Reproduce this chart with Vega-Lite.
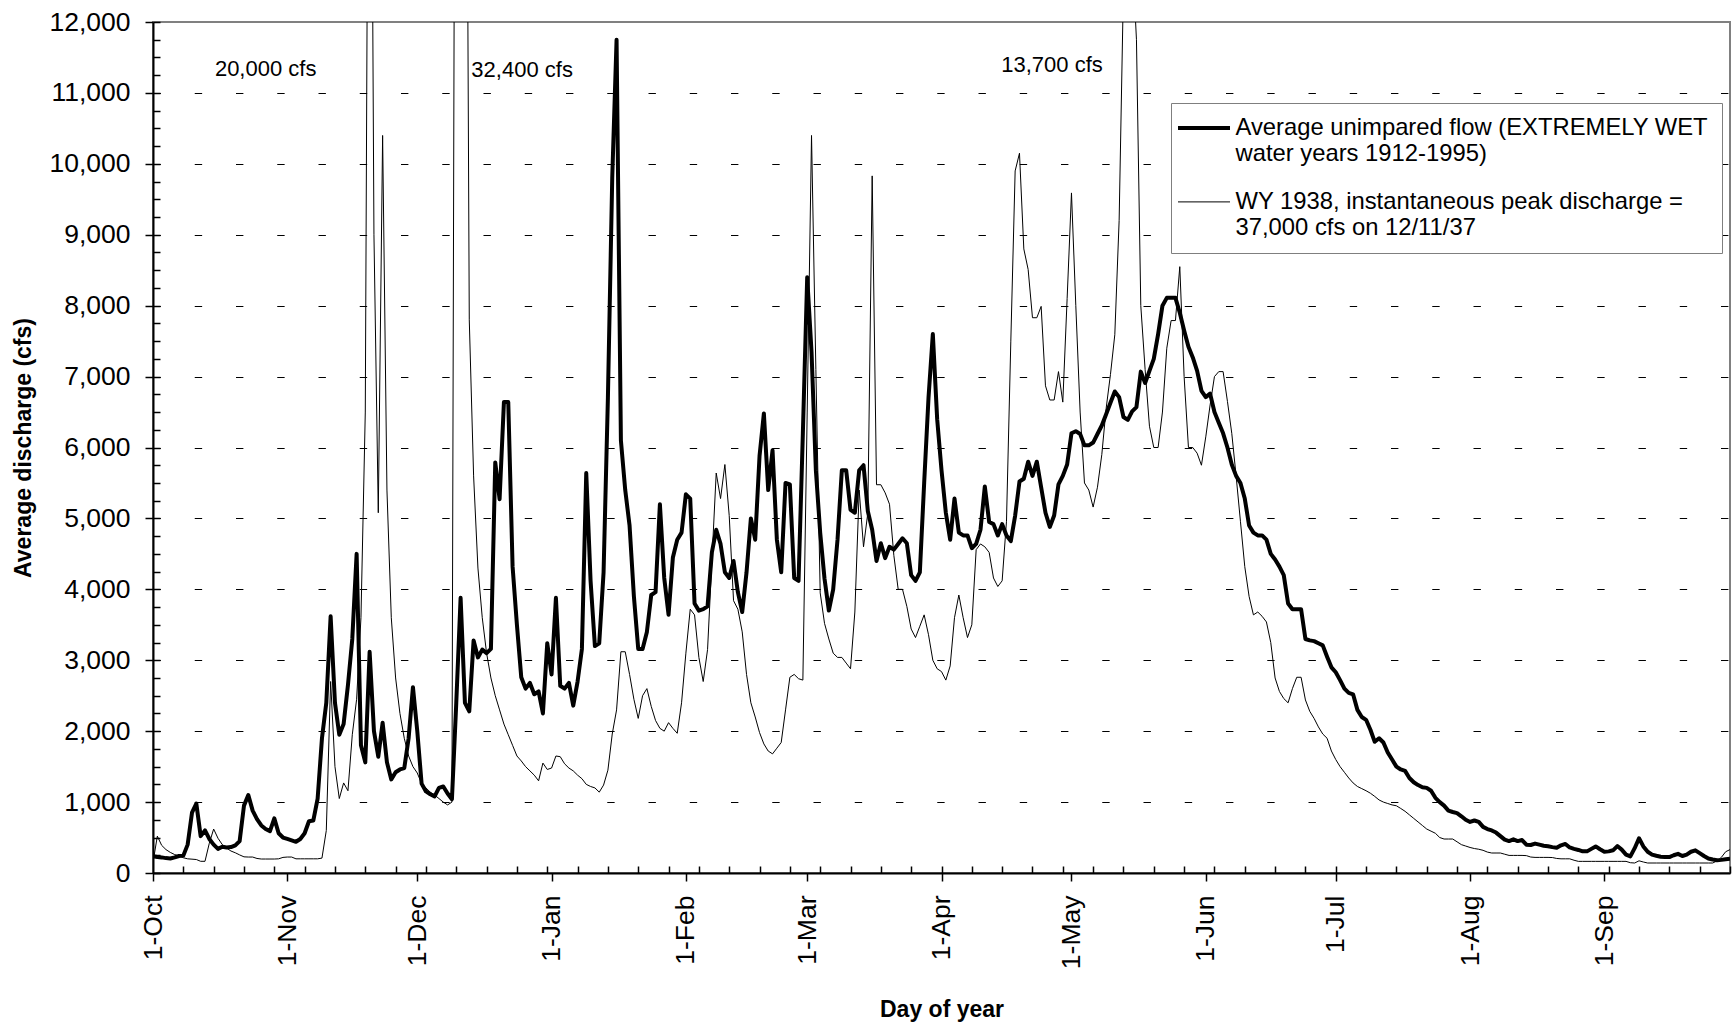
{
  "$schema": "https://vega.github.io/schema/vega-lite/v6.json",
  "width": 1577,
  "height": 851,
  "autosize": {"type": "none"},
  "padding": {"left": 153, "top": 22, "right": 2, "bottom": 156},
  "background": "white",
  "config": {
    "font": "Liberation Sans",
    "view": {"stroke": "#808080", "strokeWidth": 2},
    "axis": {
      "labelFont": "Liberation Sans",
      "titleFont": "Liberation Sans",
      "labelColor": "black",
      "titleColor": "black",
      "domainColor": "black",
      "tickColor": "black"
    }
  },
  "datasets": {
    "flow": [
      {"d":0,"avg":235,"wy":150},{"d":1,"avg":225,"wy":520},{"d":2,"avg":220,"wy":390},{"d":3,"avg":210,"wy":330},{"d":4,"avg":205,"wy":290},
      {"d":5,"avg":220,"wy":260},{"d":6,"avg":240,"wy":240},{"d":7,"avg":245,"wy":215},{"d":8,"avg":400,"wy":200},{"d":9,"avg":850,"wy":195},
      {"d":10,"avg":980,"wy":190},{"d":11,"avg":520,"wy":165},{"d":12,"avg":600,"wy":165},{"d":13,"avg":480,"wy":420},{"d":14,"avg":400,"wy":620},
      {"d":15,"avg":340,"wy":490},{"d":16,"avg":370,"wy":400},{"d":17,"avg":360,"wy":350},{"d":18,"avg":365,"wy":310},{"d":19,"avg":390,"wy":285},
      {"d":20,"avg":450,"wy":255},{"d":21,"avg":950,"wy":228},{"d":22,"avg":1100,"wy":225},{"d":23,"avg":880,"wy":225},{"d":24,"avg":760,"wy":205},
      {"d":25,"avg":670,"wy":197},{"d":26,"avg":620,"wy":197},{"d":27,"avg":590,"wy":197},{"d":28,"avg":770,"wy":197},{"d":29,"avg":560,"wy":200},
      {"d":30,"avg":500,"wy":220},{"d":31,"avg":480,"wy":225},{"d":32,"avg":460,"wy":225},{"d":33,"avg":440,"wy":200},{"d":34,"avg":480,"wy":200},
      {"d":35,"avg":560,"wy":200},{"d":36,"avg":730,"wy":200},{"d":37,"avg":740,"wy":200},{"d":38,"avg":1050,"wy":200},{"d":39,"avg":1900,"wy":210},
      {"d":40,"avg":2400,"wy":600},{"d":41,"avg":3620,"wy":2700},{"d":42,"avg":2400,"wy":1500},{"d":43,"avg":1950,"wy":1050},{"d":44,"avg":2100,"wy":1270},
      {"d":45,"avg":2650,"wy":1160},{"d":46,"avg":3300,"wy":1950},{"d":47,"avg":4500,"wy":2450},{"d":48,"avg":1800,"wy":3600},{"d":49,"avg":1560,"wy":6500},
      {"d":50,"avg":3120,"wy":20000},{"d":51,"avg":2000,"wy":9000},{"d":52,"avg":1640,"wy":5080},{"d":53,"avg":2120,"wy":10400},{"d":54,"avg":1560,"wy":5400},
      {"d":55,"avg":1320,"wy":3600},{"d":56,"avg":1420,"wy":2750},{"d":57,"avg":1460,"wy":2250},{"d":58,"avg":1480,"wy":1900},{"d":59,"avg":1900,"wy":1650},
      {"d":60,"avg":2620,"wy":1500},{"d":61,"avg":2000,"wy":1410},{"d":62,"avg":1260,"wy":1260},{"d":63,"avg":1150,"wy":1200},{"d":64,"avg":1110,"wy":1140},
      {"d":65,"avg":1080,"wy":1100},{"d":66,"avg":1200,"wy":1050},{"d":67,"avg":1220,"wy":1000},{"d":68,"avg":1120,"wy":960},{"d":69,"avg":1040,"wy":1000},
      {"d":70,"avg":2400,"wy":23000},{"d":71,"avg":3880,"wy":32400},{"d":72,"avg":2400,"wy":21000},{"d":73,"avg":2280,"wy":7800},{"d":74,"avg":3280,"wy":5600},
      {"d":75,"avg":3040,"wy":4300},{"d":76,"avg":3150,"wy":3600},{"d":77,"avg":3100,"wy":3100},{"d":78,"avg":3160,"wy":2750},{"d":79,"avg":5790,"wy":2500},
      {"d":80,"avg":5270,"wy":2300},{"d":81,"avg":6640,"wy":2100},{"d":82,"avg":6640,"wy":1950},{"d":83,"avg":4320,"wy":1800},{"d":84,"avg":3500,"wy":1650},
      {"d":85,"avg":2760,"wy":1580},{"d":86,"avg":2600,"wy":1500},{"d":87,"avg":2680,"wy":1440},{"d":88,"avg":2520,"wy":1380},{"d":89,"avg":2560,"wy":1300},
      {"d":90,"avg":2250,"wy":1550},{"d":91,"avg":3240,"wy":1460},{"d":92,"avg":2800,"wy":1480},{"d":93,"avg":3880,"wy":1650},{"d":94,"avg":2640,"wy":1640},
      {"d":95,"avg":2600,"wy":1540},{"d":96,"avg":2680,"wy":1480},{"d":97,"avg":2360,"wy":1440},{"d":98,"avg":2700,"wy":1380},{"d":99,"avg":3160,"wy":1330},
      {"d":100,"avg":5640,"wy":1250},{"d":101,"avg":4120,"wy":1220},{"d":102,"avg":3200,"wy":1200},{"d":103,"avg":3240,"wy":1140},{"d":104,"avg":4240,"wy":1240},
      {"d":105,"avg":6700,"wy":1450},{"d":106,"avg":9800,"wy":1960},{"d":107,"avg":11750,"wy":2300},{"d":108,"avg":6100,"wy":3120},{"d":109,"avg":5400,"wy":3120},
      {"d":110,"avg":4900,"wy":2800},{"d":111,"avg":3900,"wy":2450},{"d":112,"avg":3160,"wy":2180},{"d":113,"avg":3160,"wy":2500},{"d":114,"avg":3400,"wy":2600},
      {"d":115,"avg":3920,"wy":2350},{"d":116,"avg":3960,"wy":2150},{"d":117,"avg":5200,"wy":2040},{"d":118,"avg":4160,"wy":2000},{"d":119,"avg":3640,"wy":2120},
      {"d":120,"avg":4450,"wy":2040},{"d":121,"avg":4700,"wy":1970},{"d":122,"avg":4800,"wy":2400},{"d":123,"avg":5340,"wy":3100},{"d":124,"avg":5280,"wy":3720},
      {"d":125,"avg":3800,"wy":3640},{"d":126,"avg":3700,"wy":3040},{"d":127,"avg":3720,"wy":2700},{"d":128,"avg":3760,"wy":3150},{"d":129,"avg":4520,"wy":4400},
      {"d":130,"avg":4840,"wy":5640},{"d":131,"avg":4640,"wy":5280},{"d":132,"avg":4240,"wy":5760},{"d":133,"avg":4160,"wy":5040},{"d":134,"avg":4400,"wy":3840},
      {"d":135,"avg":3960,"wy":3720},{"d":136,"avg":3680,"wy":3400},{"d":137,"avg":4240,"wy":2800},{"d":138,"avg":5000,"wy":2400},{"d":139,"avg":4700,"wy":2200},
      {"d":140,"avg":5880,"wy":1980},{"d":141,"avg":6480,"wy":1820},{"d":142,"avg":5400,"wy":1720},{"d":143,"avg":5960,"wy":1680},{"d":144,"avg":4700,"wy":1760},
      {"d":145,"avg":4240,"wy":1840},{"d":146,"avg":5500,"wy":2300},{"d":147,"avg":5480,"wy":2760},{"d":148,"avg":4160,"wy":2800},{"d":149,"avg":4120,"wy":2740},
      {"d":150,"avg":6200,"wy":2720},{"d":151,"avg":8400,"wy":6500},{"d":152,"avg":7350,"wy":10400},{"d":153,"avg":5680,"wy":7100},{"d":154,"avg":4800,"wy":3950},
      {"d":155,"avg":4150,"wy":3520},{"d":156,"avg":3700,"wy":3300},{"d":157,"avg":4000,"wy":3100},{"d":158,"avg":4700,"wy":3040},{"d":159,"avg":5680,"wy":3040},
      {"d":160,"avg":5680,"wy":2960},{"d":161,"avg":5120,"wy":2880},{"d":162,"avg":5080,"wy":3680},{"d":163,"avg":5680,"wy":5400},{"d":164,"avg":5750,"wy":4600},
      {"d":165,"avg":5100,"wy":5080},{"d":166,"avg":4840,"wy":9830},{"d":167,"avg":4400,"wy":5475},{"d":168,"avg":4650,"wy":5475},{"d":169,"avg":4440,"wy":5360},
      {"d":170,"avg":4600,"wy":5200},{"d":171,"avg":4560,"wy":4480},{"d":172,"avg":4640,"wy":4000},{"d":173,"avg":4720,"wy":4000},{"d":174,"avg":4650,"wy":3760},
      {"d":175,"avg":4200,"wy":3440},{"d":176,"avg":4120,"wy":3320},{"d":177,"avg":4240,"wy":3480},{"d":178,"avg":5500,"wy":3640},{"d":179,"avg":6700,"wy":3360},
      {"d":180,"avg":7600,"wy":3000},{"d":181,"avg":6400,"wy":2880},{"d":182,"avg":5680,"wy":2840},{"d":183,"avg":5080,"wy":2720},{"d":184,"avg":4700,"wy":2920},
      {"d":185,"avg":5280,"wy":3600},{"d":186,"avg":4800,"wy":3920},{"d":187,"avg":4760,"wy":3600},{"d":188,"avg":4760,"wy":3320},{"d":189,"avg":4580,"wy":3500},
      {"d":190,"avg":4640,"wy":4560},{"d":191,"avg":4840,"wy":4640},{"d":192,"avg":5450,"wy":4600},{"d":193,"avg":4950,"wy":4520},{"d":194,"avg":4920,"wy":4160},
      {"d":195,"avg":4760,"wy":4040},{"d":196,"avg":4920,"wy":4120},{"d":197,"avg":4760,"wy":4960},{"d":198,"avg":4680,"wy":7500},{"d":199,"avg":5040,"wy":9900},
      {"d":200,"avg":5520,"wy":10150},{"d":201,"avg":5560,"wy":8800},{"d":202,"avg":5800,"wy":8510},{"d":203,"avg":5600,"wy":7830},{"d":204,"avg":5800,"wy":7830},
      {"d":205,"avg":5440,"wy":7990},{"d":206,"avg":5080,"wy":6870},{"d":207,"avg":4880,"wy":6670},{"d":208,"avg":5040,"wy":6670},{"d":209,"avg":5480,"wy":7070},
      {"d":210,"avg":5600,"wy":6640},{"d":211,"avg":5760,"wy":8100},{"d":212,"avg":6200,"wy":9590},{"d":213,"avg":6230,"wy":8000},{"d":214,"avg":6190,"wy":6500},
      {"d":215,"avg":6030,"wy":5500},{"d":216,"avg":6030,"wy":5400},{"d":217,"avg":6070,"wy":5160},{"d":218,"avg":6190,"wy":5440},{"d":219,"avg":6310,"wy":5900},
      {"d":220,"avg":6470,"wy":6550},{"d":221,"avg":6630,"wy":7030},{"d":222,"avg":6790,"wy":7590},{"d":223,"avg":6710,"wy":9200},{"d":224,"avg":6430,"wy":12500},
      {"d":225,"avg":6390,"wy":13700},{"d":226,"avg":6510,"wy":13000},{"d":227,"avg":6570,"wy":11750},{"d":228,"avg":7070,"wy":8000},{"d":229,"avg":6910,"wy":7100},
      {"d":230,"avg":7080,"wy":6300},{"d":231,"avg":7250,"wy":6000},{"d":232,"avg":7600,"wy":6000},{"d":233,"avg":8000,"wy":6500},{"d":234,"avg":8110,"wy":7400},
      {"d":235,"avg":8110,"wy":7790},{"d":236,"avg":8110,"wy":7790},{"d":237,"avg":7900,"wy":8550},{"d":238,"avg":7650,"wy":7000},{"d":239,"avg":7420,"wy":6000},
      {"d":240,"avg":7270,"wy":6000},{"d":241,"avg":7080,"wy":5920},{"d":242,"avg":6800,"wy":5750},{"d":243,"avg":6710,"wy":6150},{"d":244,"avg":6760,"wy":6600},
      {"d":245,"avg":6500,"wy":7000},{"d":246,"avg":6350,"wy":7070},{"d":247,"avg":6200,"wy":7070},{"d":248,"avg":6000,"wy":6650},{"d":249,"avg":5760,"wy":6200},
      {"d":250,"avg":5600,"wy":5600},{"d":251,"avg":5500,"wy":4960},{"d":252,"avg":5280,"wy":4320},{"d":253,"avg":4900,"wy":3900},{"d":254,"avg":4800,"wy":3640},
      {"d":255,"avg":4760,"wy":3680},{"d":256,"avg":4760,"wy":3620},{"d":257,"avg":4700,"wy":3540},{"d":258,"avg":4500,"wy":3250},{"d":259,"avg":4420,"wy":2750},
      {"d":260,"avg":4320,"wy":2560},{"d":261,"avg":4200,"wy":2460},{"d":262,"avg":3800,"wy":2400},{"d":263,"avg":3720,"wy":2600},{"d":264,"avg":3720,"wy":2760},
      {"d":265,"avg":3720,"wy":2760},{"d":266,"avg":3300,"wy":2440},{"d":267,"avg":3280,"wy":2280},{"d":268,"avg":3270,"wy":2180},{"d":269,"avg":3240,"wy":2060},
      {"d":270,"avg":3210,"wy":1960},{"d":271,"avg":3050,"wy":1900},{"d":272,"avg":2900,"wy":1720},{"d":273,"avg":2830,"wy":1600},{"d":274,"avg":2720,"wy":1500},
      {"d":275,"avg":2600,"wy":1420},{"d":276,"avg":2540,"wy":1340},{"d":277,"avg":2520,"wy":1270},{"d":278,"avg":2300,"wy":1220},{"d":279,"avg":2200,"wy":1190},
      {"d":280,"avg":2160,"wy":1160},{"d":281,"avg":2020,"wy":1125},{"d":282,"avg":1850,"wy":1080},{"d":283,"avg":1900,"wy":1030},{"d":284,"avg":1840,"wy":1000},
      {"d":285,"avg":1700,"wy":980},{"d":286,"avg":1600,"wy":960},{"d":287,"avg":1500,"wy":948},{"d":288,"avg":1460,"wy":910},{"d":289,"avg":1440,"wy":870},
      {"d":290,"avg":1340,"wy":820},{"d":291,"avg":1280,"wy":770},{"d":292,"avg":1240,"wy":720},{"d":293,"avg":1210,"wy":670},{"d":294,"avg":1200,"wy":620},
      {"d":295,"avg":1160,"wy":590},{"d":296,"avg":1060,"wy":560},{"d":297,"avg":1000,"wy":500},{"d":298,"avg":950,"wy":479},{"d":299,"avg":880,"wy":479},
      {"d":300,"avg":860,"wy":479},{"d":301,"avg":845,"wy":440},{"d":302,"avg":800,"wy":400},{"d":303,"avg":750,"wy":380},{"d":304,"avg":720,"wy":360},
      {"d":305,"avg":740,"wy":345},{"d":306,"avg":720,"wy":335},{"d":307,"avg":650,"wy":320},{"d":308,"avg":620,"wy":295},{"d":309,"avg":600,"wy":282},
      {"d":310,"avg":570,"wy":282},{"d":311,"avg":520,"wy":282},{"d":312,"avg":470,"wy":265},{"d":313,"avg":450,"wy":248},{"d":314,"avg":475,"wy":248},
      {"d":315,"avg":450,"wy":248},{"d":316,"avg":465,"wy":248},{"d":317,"avg":400,"wy":245},{"d":318,"avg":395,"wy":225},{"d":319,"avg":415,"wy":220},
      {"d":320,"avg":400,"wy":220},{"d":321,"avg":385,"wy":220},{"d":322,"avg":378,"wy":220},{"d":323,"avg":365,"wy":218},{"d":324,"avg":355,"wy":205},
      {"d":325,"avg":390,"wy":200},{"d":326,"avg":410,"wy":200},{"d":327,"avg":360,"wy":200},{"d":328,"avg":340,"wy":180},{"d":329,"avg":325,"wy":164},
      {"d":330,"avg":305,"wy":164},{"d":331,"avg":305,"wy":164},{"d":332,"avg":340,"wy":164},{"d":333,"avg":375,"wy":164},{"d":334,"avg":335,"wy":164},
      {"d":335,"avg":300,"wy":164},{"d":336,"avg":305,"wy":164},{"d":337,"avg":320,"wy":164},{"d":338,"avg":380,"wy":164},{"d":339,"avg":330,"wy":164},
      {"d":340,"avg":260,"wy":164},{"d":341,"avg":235,"wy":145},{"d":342,"avg":350,"wy":141},{"d":343,"avg":490,"wy":172},{"d":344,"avg":375,"wy":155},
      {"d":345,"avg":300,"wy":141},{"d":346,"avg":260,"wy":141},{"d":347,"avg":244,"wy":141},{"d":348,"avg":230,"wy":141},{"d":349,"avg":225,"wy":141},
      {"d":350,"avg":225,"wy":141},{"d":351,"avg":250,"wy":141},{"d":352,"avg":270,"wy":141},{"d":353,"avg":240,"wy":141},{"d":354,"avg":260,"wy":141},
      {"d":355,"avg":300,"wy":141},{"d":356,"avg":320,"wy":141},{"d":357,"avg":280,"wy":141},{"d":358,"avg":240,"wy":141},{"d":359,"avg":205,"wy":141},
      {"d":360,"avg":190,"wy":141},{"d":361,"avg":180,"wy":170},{"d":362,"avg":185,"wy":220},{"d":363,"avg":195,"wy":300},{"d":364,"avg":200,"wy":330}
    ],
    "notes": [
      {"d": 26, "cfs": 11240, "label": "20,000 cfs"},
      {"d": 85.2, "cfs": 11230, "label": "32,400 cfs"},
      {"d": 207.5, "cfs": 11300, "label": "13,700 cfs"}
    ]
  },
  "layer": [
    {
      "data": {"name": "flow"},
      "transform": [{"fold": ["avg", "wy"], "as": ["series", "cfs"]}],
      "mark": {"type": "line", "clip": true, "color": "black", "strokeJoin": "round"},
      "encoding": {
        "x": {
          "field": "d",
          "type": "quantitative",
          "scale": {"domain": [0, 364], "nice": false, "zero": false},
          "axis": {
            "orient": "bottom",
            "values": [0, 31, 61, 92, 123, 151, 182, 212, 243, 273, 304, 335],
            "labelExpr": "['1-Oct','1-Nov','1-Dec','1-Jan','1-Feb','1-Mar','1-Apr','1-May','1-Jun','1-Jul','1-Aug','1-Sep'][indexof([0,31,61,92,123,151,182,212,243,273,304,335], datum.value)]",
            "labelAngle": -90,
            "labelFontSize": 26.5,
            "labelPadding": 14,
            "labelFlush": false,
            "labelOverlap": false,
            "tickSize": 8,
            "tickWidth": 1.5,
            "domainWidth": 2,
            "grid": false,
            "title": "Day of year",
            "titleFontSize": 23,
            "titleFontWeight": "bold",
            "titlePadding": 30
          }
        },
        "y": {
          "field": "cfs",
          "type": "quantitative",
          "scale": {"domain": [0, 12000], "nice": false, "zero": true},
          "axis": {
            "orient": "left",
            "values": [0, 1000, 2000, 3000, 4000, 5000, 6000, 7000, 8000, 9000, 10000, 11000, 12000],
            "format": ",.0f",
            "labelFontSize": 26.5,
            "labelPadding": 15,
            "labelFlush": false,
            "labelOverlap": false,
            "tickSize": 8,
            "tickWidth": 1.5,
            "domainWidth": 2,
            "grid": false,
            "title": "Average discharge (cfs)",
            "titleFontSize": 23,
            "titleFontWeight": "bold",
            "titlePadding": 13
          }
        },
        "strokeWidth": {
          "field": "series",
          "type": "ordinal",
          "scale": {"domain": ["avg", "wy"], "range": [4, 1]},
          "legend": {
            "orient": "none",
            "legendX": 1018,
            "legendY": 81,
            "title": null,
            "symbolType": "M-2.6,0L2.6,0",
            "symbolSize": 400,
            "symbolOffset": 8,
            "symbolStrokeColor": "black",
            "labelFont": "Liberation Sans",
            "labelFontSize": 23.8,
            "labelColor": "black",
            "labelLimit": 800,
            "labelOffset": 19.5,
            "padding": 13,
            "rowPadding": 23,
            "fillColor": "white",
            "strokeColor": "#7f7f7f",
            "labelExpr": "datum.value == 'avg' ? ['Average unimpared flow (EXTREMELY WET', 'water years 1912-1995)'] : ['WY 1938, instantaneous peak discharge =', '37,000 cfs on 12/11/37']",
            "encoding": {
              "labels": {"enter": {"lineHeight": {"value": 30}}, "update": {"lineHeight": {"value": 30}, "dy": {"value": 15}}}
            }
          }
        }
      }
    },
    {
      "data": {"name": "notes"},
      "mark": {"type": "text", "font": "Liberation Sans", "fontSize": 22, "color": "black", "align": "center", "baseline": "alphabetic"},
      "encoding": {
        "x": {
          "field": "d",
          "type": "quantitative",
          "axis": {
            "orient": "bottom",
            "values": [7,14,21,28,35,42,49,56,63,70,77,84,91,98,105,112,119,126,133,140,147,154,161,168,175,182,189,196,203,210,217,224,231,238,245,252,259,266,273,280,287,294,301,308,315,322,329,336,343,350,357,364],
            "labels": false,
            "domain": false,
            "grid": false,
            "tickSize": -7,
            "tickWidth": 1.5,
            "title": null
          }
        },
        "y": {
          "field": "cfs",
          "type": "quantitative",
          "axis": {
            "orient": "left",
            "values": [0,250,500,750,1000,1250,1500,1750,2000,2250,2500,2750,3000,3250,3500,3750,4000,4250,4500,4750,5000,5250,5500,5750,6000,6250,6500,6750,7000,7250,7500,7750,8000,8250,8500,8750,9000,9250,9500,9750,10000,10250,10500,10750,11000,11250,11500,11750,12000],
            "labels": false,
            "domain": false,
            "tickSize": -7,
            "tickWidth": 1.5,
            "grid": true,
            "gridColor": "black",
            "gridWidth": 1,
            "gridDash": [7.4, 33.85],
            "gridOpacity": {"condition": {"test": "datum.value % 1000 === 0 && datum.value > 0 && datum.value < 12000", "value": 1}, "value": 0},
            "title": null
          }
        },
        "text": {"field": "label", "type": "nominal"}
      }
    }
  ],
  "resolve": {"axis": {"x": "independent", "y": "independent"}}
}
